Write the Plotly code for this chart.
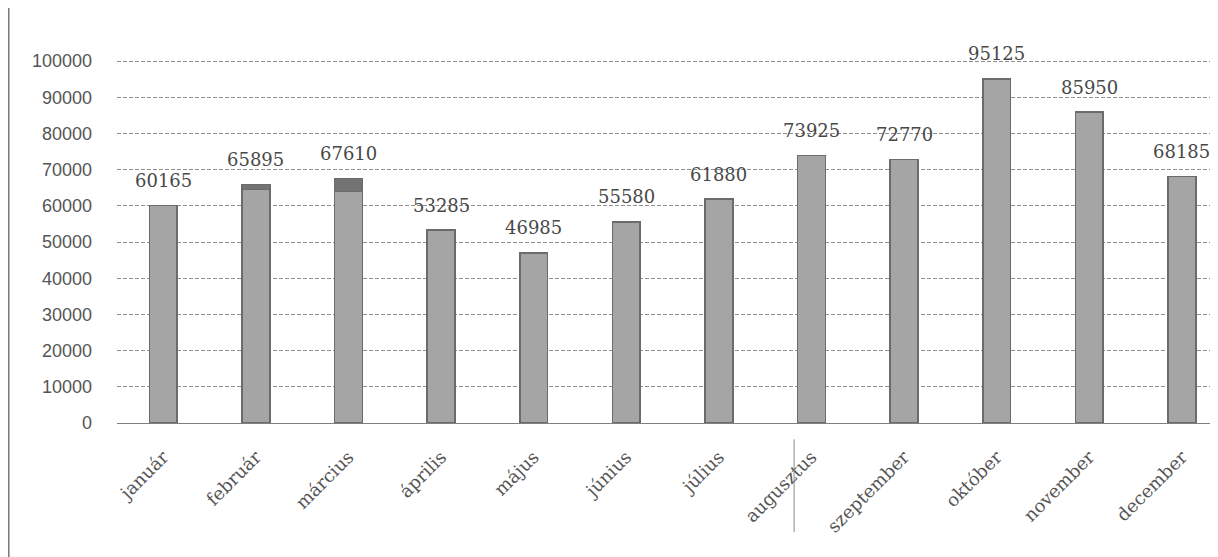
import plotly.graph_objects as go

months = ["január", "február", "március", "április", "május", "június",
          "július", "augusztus", "szeptember", "október", "november", "december"]
totals = [60165, 65895, 67610, 53285, 46985, 55580, 61880, 73925, 72770, 95125, 85950, 68185]
# darker top segment visible on two bars (estimated)
extra = [0, 1400, 3600, 0, 0, 0, 0, 0, 0, 0, 0, 0]
base = [t - e for t, e in zip(totals, extra)]

y_ticks = list(range(0, 100001, 10000))

fig = go.Figure()
fig.add_trace(go.Bar(
    x=months, y=base, width=0.30,
    marker=dict(color="#a5a5a5", line=dict(color="#6b6b6b", width=1.5)),
    hoverinfo="skip", showlegend=False,
))
fig.add_trace(go.Bar(
    x=months, y=extra, width=0.30,
    marker=dict(color="#737373", line=dict(color="#6b6b6b", width=1.5)),
    hoverinfo="skip", showlegend=False,
))

for m, t in zip(months, totals):
    fig.add_annotation(
        x=m, y=t, text=str(t), showarrow=False,
        yanchor="middle", yshift=25,
        font=dict(family="DejaVu Serif", size=18, color="#484848"),
    )

# scan artifacts: left page edge and fold line
fig.add_shape(type="line", xref="paper", yref="paper",
              x0=-0.0985, x1=-0.0985, y0=-0.38, y1=1.18,
              line=dict(color="#7a7a7a", width=2))
fig.add_shape(type="line", xref="paper", yref="paper",
              x0=0.615, x1=0.615, y0=-0.045, y1=-0.30,
              line=dict(color="#8a8a8a", width=1))

fig.update_layout(
    width=1210, height=549,
    margin=dict(l=109, r=0, t=51, b=134, pad=0),
    barmode="stack",
    bargap=0.7,
    paper_bgcolor="white", plot_bgcolor="white",
    showlegend=False,
    xaxis=dict(
        type="category", categoryorder="array", categoryarray=months,
        range=[-0.5, 11.39],
        tickangle=-45,
        tickfont=dict(family="DejaVu Serif", size=18, color="#555555"),
        showgrid=False, showline=False, ticks="",
        ticklabelstandoff=19,
    ),
    yaxis=dict(
        range=[0, 100600],
        tickvals=y_ticks,
        ticktext=[str(v) for v in y_ticks],
        tickfont=dict(family="Liberation Sans", size=18, color="#555555"),
        showgrid=True, gridcolor="#8f8f8f", gridwidth=1, griddash="4px,2px",
        zeroline=True, zerolinecolor="#808080", zerolinewidth=1,
        showline=False, ticks="",
        ticklabelstandoff=24,
    ),
)

fig.write_html("out.html")
